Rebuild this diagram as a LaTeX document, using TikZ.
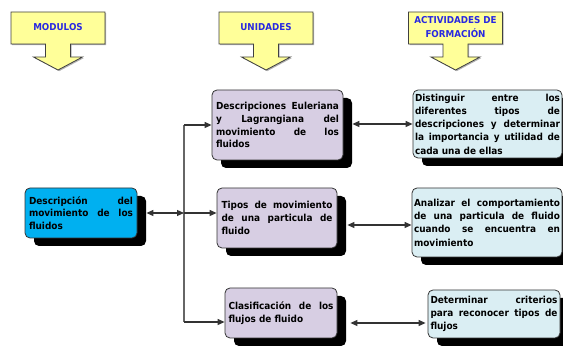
\documentclass[tikz,border=0pt]{standalone}
\usepackage{fontspec}
\setmainfont{DejaVu Sans}[FakeStretch=0.92]
\usetikzlibrary{arrows.meta,shadows}
\definecolor{hdrfill}{RGB}{255,255,153}
\definecolor{hdrtext}{RGB}{40,40,225}
\definecolor{modfill}{RGB}{0,176,240}
\definecolor{unifill}{RGB}{215,206,227}
\definecolor{actfill}{RGB}{218,238,243}
\hyphenpenalty=10000
\exhyphenpenalty=10000
\begin{document}
\begin{tikzpicture}[x=1pt,y=-1pt,
  box/.style={draw=black!80, line width=0.8pt, rounded corners=5pt, inner ysep=0pt,
    align=justify, general shadow={fill=black, shadow xshift=9pt, shadow yshift=-8pt}},
  midfont/.style={font=\bfseries\fontsize{9.7}{12.8}\selectfont},
  actfont/.style={font=\bfseries\fontsize{9.7}{13.3}\selectfont},
  hdrtxt/.style={font=\bfseries\fontsize{9.5}{13.5}\selectfont, text=hdrtext, align=center, inner sep=0pt},
  conn/.style={draw=black!80, line width=1.1pt},
  arr/.style={conn, -{Triangle[length=7pt,width=6pt]}},
  dbl/.style={conn, {Triangle[length=7pt,width=6pt]}-{Triangle[length=7pt,width=6pt]}},
  busline/.style={draw=black!60, line width=1.3pt},
  hdrarrow/.pic={
    \path[fill=black!30, shift={(1.2,1.2)}] (-47,0) -- (47,0) -- (47,32) -- (12.5,32) -- (12.5,45) -- (24.5,45) -- (0,58) -- (-24.5,45) -- (-12.5,45) -- (-12.5,32) -- (-47,32) -- cycle;
    \path[fill=hdrfill, draw=black!75, line width=0.8pt] (-47,0) -- (47,0) -- (47,32) -- (12.5,32) -- (12.5,45) -- (24.5,45) -- (0,58) -- (-24.5,45) -- (-12.5,45) -- (-12.5,32) -- (-47,32) -- cycle;
  }
]
\useasboundingbox (0,0) rectangle (563,347);
\clip (0,0) rectangle (563,347);

% header arrows
\pic at (58,12) {hdrarrow};
\pic at (266,12) {hdrarrow};
\pic at (455.5,12) {hdrarrow};
\node[hdrtxt] (hM) at (58,27.5) {MODULOS};
\node[hdrtxt] (hU) at (266,27.5) {UNIDADES};
\node[hdrtxt] (hA) at (455.5,27) {ACTIVIDADES DE\\FORMACIÓN};

% boxes
\node[box, midfont, fill=modfill, text width=104pt, inner xsep=4pt, minimum width=112pt, minimum height=50pt] (L) at (81,213)
  {Descripción del\linebreak movimiento de los\linebreak fluidos};
\node[box, midfont, fill=unifill, text width=123pt, inner xsep=4pt, minimum width=131pt, minimum height=70pt] (M1) at (277.5,125)
  {Descripciones Euleriana\linebreak y Lagrangiana del\linebreak movimiento de los\linebreak fluidos};
\node[box, midfont, fill=unifill, text width=111pt, inner xsep=4.5pt, minimum width=120pt, minimum height=60pt] (M2) at (277,218)
  {Tipos de movimiento\linebreak de una particula de\linebreak fluido};
\node[box, midfont, fill=unifill, text width=105pt, inner xsep=3.5pt, minimum width=112pt, minimum height=50pt] (M3) at (281,313)
  {Clasificación de los\linebreak flujos de fluido};
\node[box, actfont, fill=actfill, text width=145pt, inner xsep=2pt, minimum width=149pt, minimum height=68pt] (R1) at (487.5,124)
  {Distinguir entre los\linebreak diferentes tipos de\linebreak descripciones y determinar\linebreak la importancia y utilidad de\linebreak cada una de ellas};
\node[box, actfont, fill=actfill, text width=146pt, inner xsep=2pt, minimum width=150pt, minimum height=69pt] (R2) at (487,222.5)
  {Analizar el comportamiento\linebreak de una particula de fluido\linebreak cuando se encuentra en\linebreak movimiento};
\node[box, actfont, fill=actfill, text width=127pt, inner xsep=2.5pt, minimum width=132pt, minimum height=48pt] (R3) at (494,314)
  {Determinar criterios\linebreak para reconocer tipos de\linebreak flujos};

% connectors
\coordinate (bustop) at (184,125);
\coordinate (busmid) at (184,213);
\coordinate (busbot) at (184,322);
\coordinate (c2) at (380,225);
\coordinate (c3) at (390,323);
\draw[busline] (bustop) -- (busbot);
\draw[dbl] ([xshift=9pt]L.east) -- (busmid);
\draw[arr] (bustop) -- (M1.west);
\draw[arr] (busmid) -- (busmid -| M2.west);
\draw[arr] (busbot) -- (busbot -| M3.west);
\draw[dbl] ([xshift=9pt]M1.east |- R1.west) -- (R1.west);
\draw[dbl] ([xshift=10pt]M2.east |- c2) -- (c2 -| R2.west);
\draw[dbl] ([xshift=13pt]M3.east |- c3) -- ([xshift=-2pt]c3 -| R3.west);
\end{tikzpicture}
\end{document}
